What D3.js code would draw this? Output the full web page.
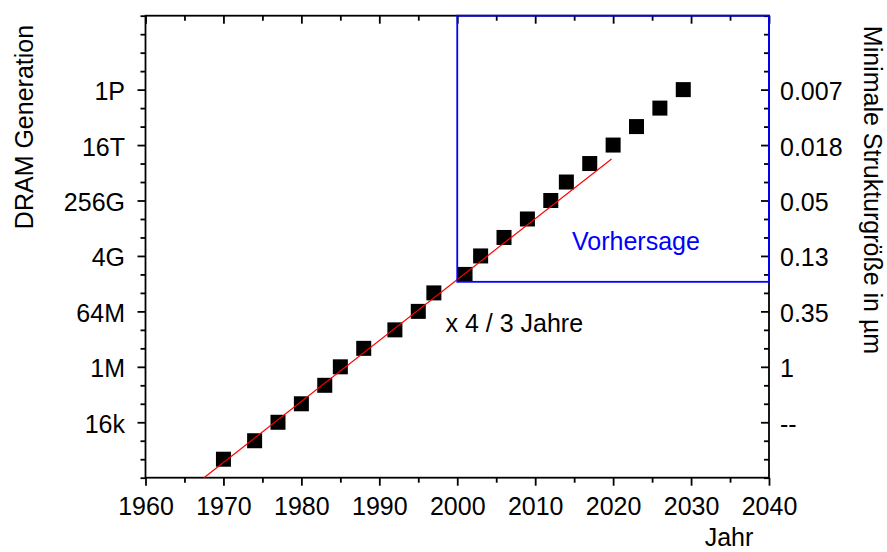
<!DOCTYPE html>
<html>
<head>
<meta charset="utf-8">
<script src="https://cdn.jsdelivr.net/npm/d3@7"></script>
<style>
  html, body { margin: 0; padding: 0; background: #fff; }
  svg { display: block; }
  text { font-family: "Liberation Sans", Arial, sans-serif; }
</style>
</head>
<body>
<svg id="chart" width="887" height="552"></svg>
<script>
// ---- data ----
const years = [1970, 1974, 1977, 1980, 1983, 1985, 1988, 1992, 1995, 1997, 2001,
               2003, 2006, 2009, 2012, 2014, 2017, 2020, 2023, 2026, 2029];
// DRAM capacity as power of two (bits): 1k = 2^10 ... 1P = 2^50
const capacityLog2 = [10, 12, 14, 16, 18, 20, 22, 24, 26, 28, 30,
                      32, 34, 36, 38, 40, 42, 44, 46, 48, 50];
const leftTickLog2 = [14, 20, 26, 32, 38, 44, 50];
const leftTickLabels = ["16k", "1M", "64M", "4G", "256G", "16T", "1P"];
const rightTickLabels = ["--", "1", "0.35", "0.13", "0.05", "0.018", "0.007"];
const xTicks = [1960, 1970, 1980, 1990, 2000, 2010, 2020, 2030, 2040];
const xMinorTicks = [1965, 1975, 1985, 1995, 2005, 2015, 2025, 2035];
// trend line "x 4 / 3 Jahre": [year, log2 capacity]
const trendLine = [[1967.5, 8], [2019.8, 42.5]];
// forecast box: from year 2000 to 2040, from ~2^29.2 up to top
const forecastYears = [2000, 2040];
const forecastLog2 = [29.2, 58];

// ---- layout ----
const svg = d3.select("#chart");
const L = 145.5, R = 769, T = 15.7, B = 477.7;
const x = d3.scaleLinear().domain([1960, 2040]).range([L, R]);
const y = d3.scaleLog().base(2).domain([2 ** 8, 2 ** 58]).range([B, T]);

const majorY = leftTickLog2.map(e => 2 ** e);
const minorY = d3.range(8, 59, 2).filter(e => !leftTickLog2.includes(e)).map(e => 2 ** e);

const FS = "25px";
const axisColor = "#000";
const lw = 1.8;

function styleAxis(g) {
  g.select(".domain").remove();
  g.selectAll("line").attr("stroke", axisColor).attr("stroke-width", lw);
  g.selectAll("text").attr("fill", "#000").style("font-size", FS)
    .style("font-family", '"Liberation Sans", Arial, sans-serif');
}

// bottom axis
svg.append("g").attr("transform", `translate(0,${B})`)
  .call(d3.axisBottom(x).tickValues(xTicks).tickSize(8).tickPadding(11.5).tickFormat(d3.format("d")))
  .call(styleAxis);
svg.append("g").attr("transform", `translate(0,${B})`)
  .call(d3.axisBottom(x).tickValues(xMinorTicks).tickSize(5).tickFormat(""))
  .call(styleAxis);
// top axis (ticks inward)
svg.append("g").attr("transform", `translate(0,${T})`)
  .call(d3.axisTop(x).tickValues(xTicks).tickSize(-8).tickFormat(""))
  .call(styleAxis);
svg.append("g").attr("transform", `translate(0,${T})`)
  .call(d3.axisTop(x).tickValues(xMinorTicks).tickSize(-5).tickFormat(""))
  .call(styleAxis);
// left axis
const leftAxis = svg.append("g").attr("transform", `translate(${L},0)`)
  .call(d3.axisLeft(y).tickValues(majorY).tickSize(8).tickPadding(12.5)
    .tickFormat((d, i) => leftTickLabels[i]))
  .call(styleAxis);
leftAxis.selectAll("text").attr("dy", null).attr("y", 10);
svg.append("g").attr("transform", `translate(${L},0)`)
  .call(d3.axisLeft(y).tickValues(minorY).tickSize(5).tickFormat(""))
  .call(styleAxis);
// right axis (ticks inward)
const rightAxis = svg.append("g").attr("transform", `translate(${R},0)`)
  .call(d3.axisRight(y).tickValues(majorY).tickSizeInner(-8).tickSizeOuter(0).tickPadding(11)
    .tickFormat((d, i) => rightTickLabels[i]))
  .call(styleAxis);
rightAxis.selectAll("text").attr("dy", null).attr("y", 10);
svg.append("g").attr("transform", `translate(${R},0)`)
  .call(d3.axisRight(y).tickValues(minorY).tickSizeInner(-5).tickSizeOuter(0).tickFormat(""))
  .call(styleAxis);

// frame
svg.append("rect")
  .attr("x", L).attr("y", T).attr("width", R - L).attr("height", B - T)
  .attr("fill", "none").attr("stroke", axisColor).attr("stroke-width", lw);

// squares
const S = 15;
svg.append("g").selectAll("rect").data(years).join("rect")
  .attr("x", (d) => x(d) - S / 2)
  .attr("y", (d, i) => y(2 ** capacityLog2[i]) - S / 2)
  .attr("width", S).attr("height", S)
  .attr("fill", "#000");

// trend line
svg.append("path")
  .datum(trendLine)
  .attr("d", d3.line().x(d => x(d[0])).y(d => y(2 ** d[1])))
  .attr("fill", "none").attr("stroke", "#ff0000").attr("stroke-width", 1.2);

// forecast box
svg.append("rect")
  .attr("x", x(forecastYears[0]))
  .attr("y", y(2 ** forecastLog2[1]))
  .attr("width", x(forecastYears[1]) - x(forecastYears[0]))
  .attr("height", y(2 ** forecastLog2[0]) - y(2 ** forecastLog2[1]))
  .attr("fill", "none").attr("stroke", "#0000ff").attr("stroke-width", lw);

// annotations
svg.append("text").attr("x", 572).attr("y", 249.5)
  .attr("fill", "#0000ff").style("font-size", FS).text("Vorhersage");
svg.append("text").attr("x", 445.5).attr("y", 332)
  .attr("fill", "#000").style("font-size", FS).text("x 4 / 3 Jahre");

// axis titles
svg.append("text").attr("transform", "translate(32.5,127) rotate(-90)")
  .attr("text-anchor", "middle").style("font-size", FS).text("DRAM Generation");
svg.append("text").attr("transform", "translate(864,190) rotate(90)")
  .attr("text-anchor", "middle").style("font-size", FS).text("Minimale Strukturgröße in µm");
svg.append("text").attr("x", 729).attr("y", 546)
  .attr("text-anchor", "middle").style("font-size", FS).text("Jahr");
</script>
</body>
</html>
